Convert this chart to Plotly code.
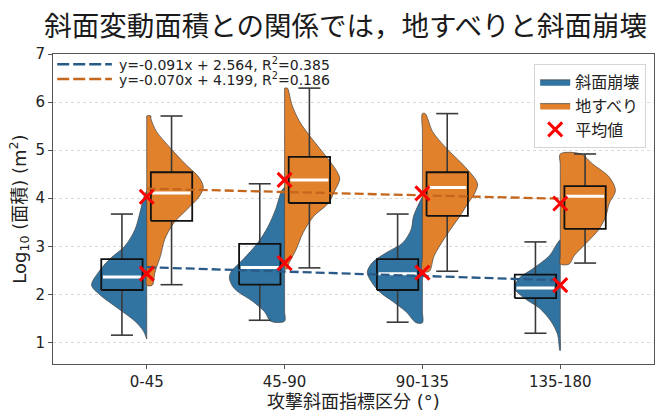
import plotly.graph_objects as go

# ---------------- data ----------------
categories = ['0-45', '45-90', '90-135', '135-180']
x_pos = [0, 1, 2, 3]

series_names = ['斜面崩壊', '地すべり']
mean_name = '平均値'

# box statistics (log10 area)
collapse_lower = [1.15, 1.46, 1.42, 1.19]
collapse_q1 = [2.09, 2.20, 2.09, 1.92]
collapse_median = [2.36, 2.56, 2.43, 2.13]
collapse_q3 = [2.73, 3.05, 2.73, 2.41]
collapse_upper = [3.67, 4.30, 3.67, 3.09]

landslide_lower = [2.20, 2.55, 2.48, 2.65]
landslide_q1 = [3.53, 3.90, 3.63, 3.36]
landslide_median = [4.11, 4.38, 4.22, 4.04]
landslide_q3 = [4.54, 4.86, 4.54, 4.25]
landslide_upper = [5.71, 6.29, 5.76, 4.92]

# means
collapse_mean = [2.43, 2.65, 2.45, 2.19]
landslide_mean = [4.03, 4.38, 4.10, 3.89]

# regression on means
reg_slope = [-0.091, -0.070]
reg_intercept = [2.564, 4.199]
reg_r2 = [0.385, 0.186]

# violin (KDE) outlines: y values and half widths, top -> bottom
collapse_kde_y = [
    [4.15, 4.03, 3.69, 3.35, 3.00, 2.73, 2.46, 2.19, 1.99, 1.71, 1.44, 1.24, 1.07],
    [4.23, 4.16, 3.76, 3.41, 3.07, 2.73, 2.46, 2.33, 2.12, 1.85, 1.64, 1.44],
    [4.03, 3.89, 3.62, 3.35, 3.07, 2.87, 2.67, 2.46, 2.26, 2.05, 1.85, 1.64, 1.41],
    [3.14, 3.07, 2.80, 2.53, 2.33, 2.13, 1.92, 1.71, 1.44, 1.17, 0.83],
]
collapse_kde_w = [
    [0.0, 0.02, 0.05, 0.085, 0.16, 0.27, 0.35, 0.40, 0.34, 0.21, 0.085, 0.025, 0.0],
    [0.0, 0.02, 0.066, 0.12, 0.195, 0.30, 0.39, 0.40, 0.365, 0.23, 0.146, 0.10],
    [0.0, 0.025, 0.065, 0.082, 0.143, 0.26, 0.36, 0.40, 0.37, 0.31, 0.215, 0.12, 0.046],
    [0.0, 0.02, 0.08, 0.20, 0.30, 0.333, 0.26, 0.15, 0.068, 0.02, 0.003],
]
landslide_kde_y = [
    [5.71, 5.66, 5.39, 5.05, 4.71, 4.43, 4.23, 4.03, 3.76, 3.48, 3.14, 2.80, 2.46, 2.19],
    [6.29, 6.27, 5.93, 5.59, 5.25, 4.91, 4.57, 4.40, 4.16, 3.89, 3.62, 3.28, 2.94, 2.60, 2.53],
    [5.76, 5.39, 5.05, 4.71, 4.37, 4.27, 4.09, 3.89, 3.62, 3.21, 2.80, 2.48],
    [4.92, 4.71, 4.44, 4.16, 3.89, 3.62, 3.35, 3.07, 2.80, 2.63],
]
landslide_kde_w = [
    [0.03, 0.03, 0.07, 0.17, 0.28, 0.38, 0.41, 0.38, 0.29, 0.195, 0.13, 0.10, 0.06, 0.04],
    [0.02, 0.025, 0.055, 0.11, 0.195, 0.29, 0.377, 0.40, 0.365, 0.316, 0.21, 0.134, 0.085, 0.025, 0.02],
    [0.02, 0.073, 0.17, 0.29, 0.39, 0.40, 0.377, 0.33, 0.27, 0.17, 0.085, 0.05],
    [0.15, 0.235, 0.355, 0.40, 0.355, 0.33, 0.28, 0.19, 0.10, 0.065],
]

# ---------------- styles ----------------
BLUE = '#3274a1'
ORANGE = '#e1812c'
BLUE_LINE = '#2a5b88'
ORANGE_LINE = '#c4661c'
BOX_OFFSET = 0.18
BOX_WIDTH = 0.30
CAP_WIDTH = 0.16
FONT = 'DejaVu Sans, Noto Sans CJK JP'
CJK = 'Noto Sans CJK JP, DejaVu Sans'


def violin_path(centers, ys_list, ws_list, sign):
    xs, ys = [], []
    for c, yv, wv in zip(centers, ys_list, ws_list):
        for y, w in zip(yv, wv):
            xs.append(c + sign * w)
            ys.append(y)
        for y in reversed(yv):
            xs.append(c)
            ys.append(y)
        xs.append(c + sign * wv[0])
        ys.append(yv[0])
        xs.append(None)
        ys.append(None)
    return xs, ys


fig = go.Figure()

# violins
for name, ys_list, ws_list, sign, col in [
    (series_names[0], collapse_kde_y, collapse_kde_w, -1, BLUE),
    (series_names[1], landslide_kde_y, landslide_kde_w, 1, ORANGE),
]:
    vx, vy = violin_path(x_pos, ys_list, ws_list, sign)
    fig.add_trace(go.Scatter(
        x=vx, y=vy, mode='lines', fill='toself', fillcolor=col,
        line=dict(color='rgba(70,70,70,0.9)', width=0.8, shape='spline', smoothing=0.9),
        name=name, legend='legend', hoverinfo='skip'))

# boxes (drawn as lines so they sit above the violins)
for lower, q1, med, q3, upper, sign in [
    (collapse_lower, collapse_q1, collapse_median, collapse_q3, collapse_upper, -1),
    (landslide_lower, landslide_q1, landslide_median, landslide_q3, landslide_upper, 1),
]:
    bx = [c + sign * BOX_OFFSET for c in x_pos]
    wx, wy = [], []   # whiskers + caps
    rx, ry = [], []   # box rectangles
    mx, my = [], []   # medians
    for b, lo, a, m, t, hi in zip(bx, lower, q1, med, q3, upper):
        wx += [b, b, None, b, b, None,
               b - CAP_WIDTH / 2, b + CAP_WIDTH / 2, None,
               b - CAP_WIDTH / 2, b + CAP_WIDTH / 2, None]
        wy += [t, hi, None, a, lo, None, hi, hi, None, lo, lo, None]
        l, r = b - BOX_WIDTH / 2, b + BOX_WIDTH / 2
        rx += [l, r, r, l, l, None]
        ry += [a, a, t, t, a, None]
        mx += [l + 0.012, r - 0.012, None]
        my += [m, m, None]
    fig.add_trace(go.Scatter(x=wx, y=wy, mode='lines',
                             line=dict(color='#3a3a3a', width=1.6),
                             showlegend=False, hoverinfo='skip'))
    fig.add_trace(go.Scatter(x=rx, y=ry, mode='lines',
                             line=dict(color='#111111', width=1.8),
                             showlegend=False, hoverinfo='skip'))
    fig.add_trace(go.Scatter(x=mx, y=my, mode='lines',
                             line=dict(color='white', width=3),
                             showlegend=False, hoverinfo='skip'))

# regression lines
for slope, intercept, col in zip(reg_slope, reg_intercept, [BLUE_LINE, ORANGE_LINE]):
    lx = [x_pos[0], x_pos[-1]]
    ly = [slope * v + intercept for v in lx]
    fig.add_trace(go.Scatter(x=lx, y=ly, mode='lines',
                             line=dict(color=col, width=2.3, dash='9px,4px'),
                             showlegend=False, hoverinfo='skip'))

# means
fig.add_trace(go.Scatter(
    x=x_pos + x_pos, y=collapse_mean + landslide_mean, mode='markers',
    marker=dict(symbol='x-thin', size=14, color='red',
                line=dict(color='red', width=3)),
    name=mean_name, legend='legend', hoverinfo='skip'))

# regression legend (annotations + sample lines in paper coords)
reg_cols = [BLUE_LINE, ORANGE_LINE]
reg_rows = [0.967, 0.919]
for slope, intercept, r2, col, yy in zip(reg_slope, reg_intercept, reg_r2, reg_cols, reg_rows):
    fig.add_shape(type='line', xref='paper', yref='paper',
                  x0=0.007, x1=0.098, y0=yy, y1=yy,
                  line=dict(color=col, width=2.5, dash='12px,4px'))
    fig.add_annotation(xref='paper', yref='paper', x=0.106, y=yy,
                       xanchor='left', yanchor='middle', showarrow=False,
                       text=f'y={slope:.3f}x + {intercept:.3f}, R<sup>2</sup>={r2:.3f}',
                       font=dict(family=FONT, size=14, color='#222'))

fig.update_layout(
    width=661, height=414,
    margin=dict(l=53, r=6, t=54, b=44),
    plot_bgcolor='white', paper_bgcolor='white',
    title=dict(text='斜面変動面積との関係では，地すべりと斜面崩壊',
               x=0.523, xanchor='center', xref='container',
               y=1 - 26 / 414, yanchor='middle', yref='container',
               font=dict(family=CJK, size=27.5, color='#1a1a1a')),
    legend=dict(x=0.987, xanchor='right', y=0.968, yanchor='top',
                bgcolor='rgba(255,255,255,0.85)', bordercolor='#d5d5d5', borderwidth=1,
                font=dict(family=CJK, size=16, color='#222')),
    xaxis=dict(range=[-0.68, 3.68], tickvals=x_pos, ticktext=categories,
               showline=True, mirror=True, linecolor='#555', linewidth=1,
               ticks='outside', ticklen=4, tickcolor='#555',
               showgrid=False, zeroline=False,
               tickfont=dict(family=FONT, size=15, color='#222'),
               title=dict(text='攻撃斜面指標区分 (°)', standoff=4,
                          font=dict(family=FONT, size=18, color='#222'))),
    yaxis=dict(range=[0.55, 7.0], tick0=0, dtick=1,
               showline=True, mirror=True, linecolor='#555', linewidth=1,
               ticks='outside', ticklen=4, tickcolor='#555',
               showgrid=True, gridcolor='#d9d9d9', gridwidth=0.8, griddash='3px,3px',
               zeroline=False,
               tickfont=dict(family=FONT, size=15, color='#222'),
               title=dict(text='Log<sub>10</sub> (面積) (m<sup>2</sup>)', standoff=4,
                          font=dict(family=FONT, size=18, color='#222'))),
)

fig.write_html('out.html')
